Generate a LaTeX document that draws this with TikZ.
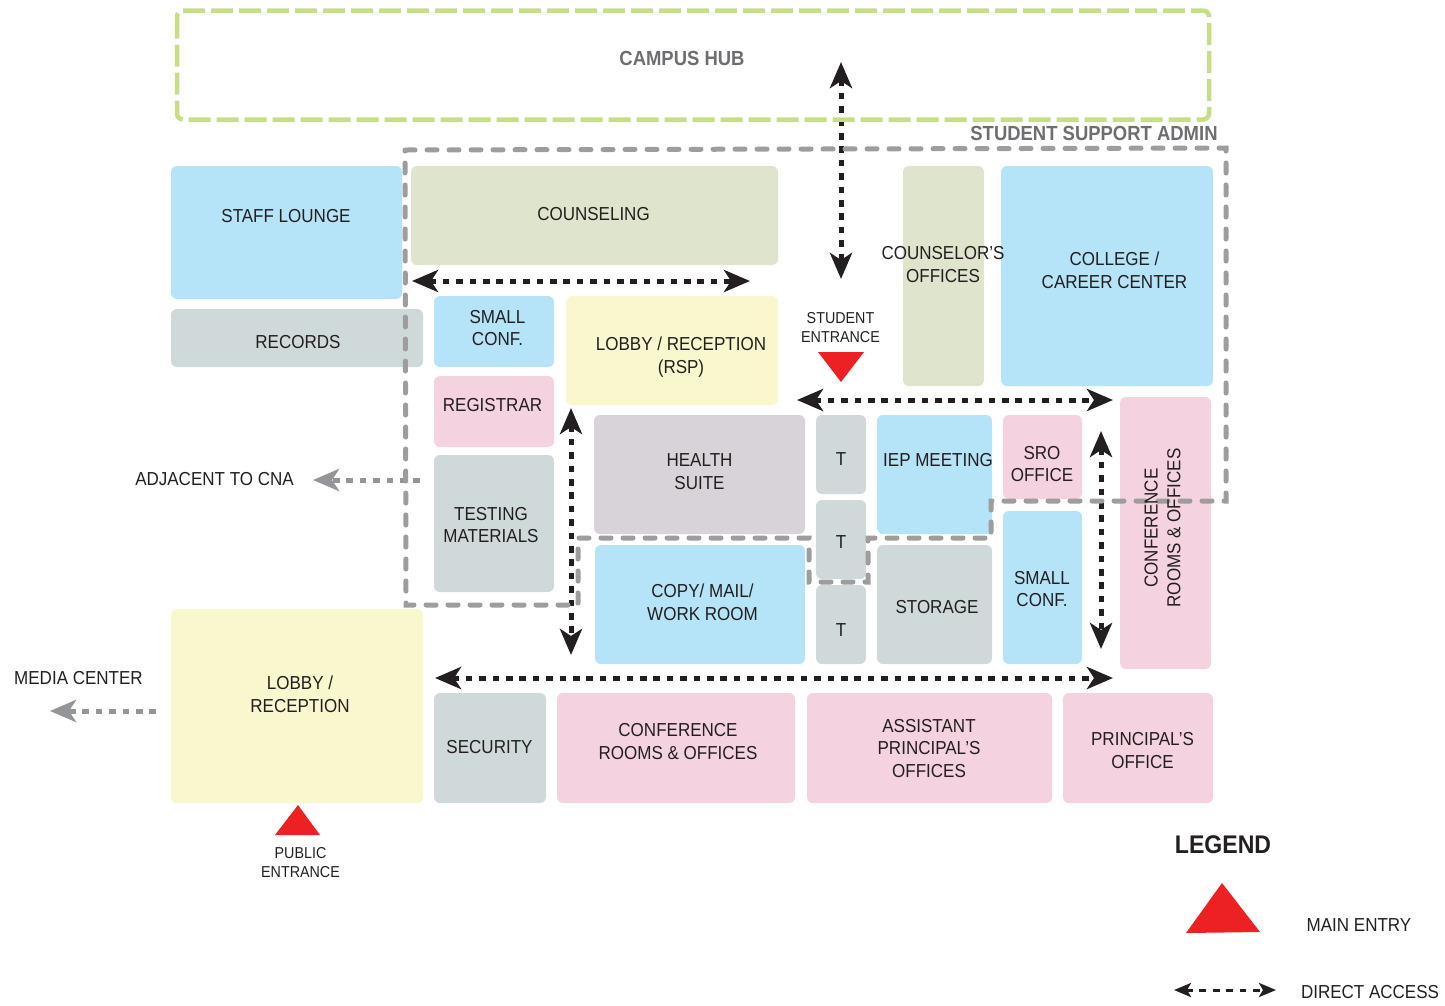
\documentclass[tikz,border=0pt]{standalone}
\usepackage{fontspec}
\setmainfont[FakeStretch=0.905]{Liberation Sans}
\usetikzlibrary{arrows.meta}
\definecolor{roomblue}{HTML}{B5E3F7}
\definecolor{roompink}{HTML}{F5D2DF}
\definecolor{roomyellow}{HTML}{F9F7CD}
\definecolor{roomgrey}{HTML}{D0D9D9}
\definecolor{roomolive}{HTML}{DFE4CC}
\definecolor{roommauve}{HTML}{D7D3D9}
\definecolor{hubgreen}{HTML}{C6DF85}
\definecolor{zonegrey}{HTML}{9E9C9C}
\definecolor{arrowgrey}{HTML}{939598}
\definecolor{entryred}{HTML}{ED2024}
\definecolor{inkdark}{HTML}{231F20}
\definecolor{headgrey}{HTML}{6D6E71}
\tikzset{
  room/.style={rounded corners=6,inner sep=0pt},
  lbl/.style={font=\fontsize{18.8}{22.8}\selectfont,text=inkdark,align=center,inner sep=0pt},
  smalllbl/.style={font=\fontsize{15.8}{19}\selectfont,text=inkdark,align=center,inner sep=0pt},
  headlbl/.style={font=\fontsize{20.4}{24}\selectfont\bfseries,text=headgrey,inner sep=0pt},
  zone/.style={line width=5pt,line cap=round,dash pattern=on 10pt off 12pt},
  hubline/.style={line width=4.5pt,dash pattern=on 22pt off 6pt},
  access/.style={line width=5pt,inkdark,dash pattern=on 6.7pt off 6.7pt,{Stealth[length=26pt,width=22pt,inset=7pt]}-{Stealth[length=26pt,width=22pt,inset=7pt]}},
  leads/.style={line width=5pt,arrowgrey,dash pattern=on 6.7pt off 6.7pt,-{Stealth[length=26pt,width=22pt,inset=7pt]}}
}
\begin{document}
\begin{tikzpicture}[x=1pt,y=-1pt]
    \useasboundingbox (0,0) rectangle (1445,1005);
    % Raeume
    \foreach \rname/\xa/\ya/\xb/\yb/\rcol in {
      stafflounge/171/166/402/299/roomblue, records/171/309/423/367/roomgrey,
      counseling/411/166/778/265/roomolive, counselors/903/166/984/386/roomolive,
      college/1001/166/1213/386/roomblue, smallconfa/434/296/554/367/roomblue,
      rsp/566/296/778/405/roomyellow, registrar/434/376/554/447/roompink,
      testing/434/455/554/592/roomgrey, health/594/415/805/534/roommauve,
      tone/816/415/866/494/roomgrey, ttwo/816/500/866/579/roomgrey,
      tthree/816/585/866/664/roomgrey, iep/877/415/992/534/roomblue,
      sro/1003/415/1082/499/roompink, smallconfb/1003/511/1082/664/roomblue,
      confright/1120/397/1211/669/roompink, storage/877/545/992/664/roomgrey,
      copy/595/545/805/664/roomblue, lobby/171/609/423/803/roomyellow,
      security/434/693/546/803/roomgrey, confbottom/557/693/795/803/roompink,
      assistant/807/693/1052/803/roompink, principal/1063/693/1213/803/roompink}{
      \node[room,fill=\rcol,minimum width={\xb-\xa},minimum height={\yb-\ya}] (\rname) at ({(\xa+\xb)/2},{(\ya+\yb)/2}) {};
    }
    % Pfeile
    \coordinate (hubend) at (841,62); \coordinate (hallend) at (841,279);
    \coordinate (counselwest) at (412,281); \coordinate (counseleast) at (750,281);
    \coordinate (entrywest) at (797,400); \coordinate (entryeast) at (1113,400);
    \coordinate (midnorth) at (571,408); \coordinate (midsouth) at (571,655);
    \coordinate (eastnorth) at (1101,431); \coordinate (eastsouth) at (1101,649);
    \coordinate (southwest) at (435,678); \coordinate (southeast) at (1113,678);
    \draw[access] (hubend) -- (hallend);
    \draw[access] (counselwest) -- (counseleast);
    \draw[access] (entrywest) -- (entryeast);
    \draw[access] (midnorth) -- (midsouth);
    \draw[access] (eastnorth) -- (eastsouth);
    \draw[access] (southwest) -- (southeast);
    \coordinate (cnastart) at (420,480); \coordinate (cnaend) at (313,480);
    \coordinate (mediastart) at (156,711); \coordinate (mediaend) at (50,711);
    \draw[leads] (cnastart) -- (cnaend);
    \draw[leads] (mediastart) -- (mediaend);
    % Zonen
    \draw[hubline,hubgreen,rounded corners=6] (177,10.5) rectangle (1209,119.5);
    \draw[zone,zonegrey] (405,150) -- (1226,148) -- (1226,501) -- (991,501) -- (991,538) -- (868,538) -- (868,582) -- (809,582) -- (809,538) -- (578,538) -- (578,605) -- (406,605) -- cycle;
    % Eingaenge
    \fill[entryred] (818,352) -- (864,352) -- (841,382) -- cycle;
    \fill[entryred] (298,805) -- (320,835) -- (275,835) -- cycle;
    \fill[entryred] (1222,883) -- (1260,932) -- (1186,933) -- cycle;
    % Beschriftungen
    \foreach \lname/\lx/\ly/\ltext in {
      lstaff/286/216/{STAFF LOUNGE}, lrecords/298/342/{RECORDS}, lcounseling/593.5/214/{COUNSELING},
      lcounselors/943/264.5/{COUNSELOR’S\\OFFICES}, lcollege/1114.5/270/{COLLEGE /\\CAREER CENTER},
      lsmalla/497.5/328/{SMALL\\CONF.}, lrsp/681/357/{LOBBY / RECEPTION\\(RSP)},
      lregistrar/492.5/405.5/{REGISTRAR}, ltesting/491/525/{TESTING\\MATERIALS},
      lhealth/699.5/471.5/{HEALTH\\SUITE}, ltone/841/459/{T}, lttwo/841/542/{T}, ltthree/841/630/{T},
      liep/938/460.5/{IEP MEETING}, lsro/1042/464/{SRO\\OFFICE}, lsmallb/1042/589/{SMALL\\CONF.},
      lstorage/937/607.5/{STORAGE}, lcopy/702.5/602.5/{COPY/ MAIL/\\WORK ROOM}, llobby/300/694.5/{LOBBY /\\RECEPTION},
      lsecurity/489.5/747.5/{SECURITY}, lconfbottom/678/741.5/{CONFERENCE\\ROOMS \& OFFICES},
      lassistant/929/748.5/{ASSISTANT\\PRINCIPAL’S\\OFFICES}, lprincipal/1142.5/750.5/{PRINCIPAL’S\\OFFICE},
      lcna/214.5/479/{ADJACENT TO CNA}, lmedia/78.5/678/{MEDIA CENTER},
      lmain/1359/925/{MAIN ENTRY}, ldirect/1370/992/{DIRECT ACCESS}}{
      \node[lbl] (\lname) at (\lx,\ly) {\ltext};
    }
    \node[lbl,rotate=90] (lconfright) at (1162.5,528) {CONFERENCE\\ROOMS \& OFFICES};
    \node[smalllbl] (lstudent) at (840.5,327.5) {STUDENT\\ENTRANCE};
    \node[smalllbl] (lpublic) at (300.5,862.5) {PUBLIC\\ENTRANCE};
    \node[headlbl] (lhub) at (682,58) {CAMPUS HUB};
    \node[headlbl] (ladmin) at (1094,133) {STUDENT SUPPORT ADMIN};
    \node[font=\fontsize{25.5}{30}\selectfont\bfseries,text=inkdark,inner sep=0pt] (llegend) at (1223,845) {LEGEND};
    % Legende
    \coordinate (keywest) at (1174,990); \coordinate (keyeast) at (1276,990);
    \draw[line width=3pt,inkdark,dash pattern=on 6.7pt off 6.7pt,{Stealth[length=17pt,width=14pt,inset=4pt]}-{Stealth[length=17pt,width=14pt,inset=4pt]}] (keywest) -- (keyeast);
\end{tikzpicture}
\end{document}
